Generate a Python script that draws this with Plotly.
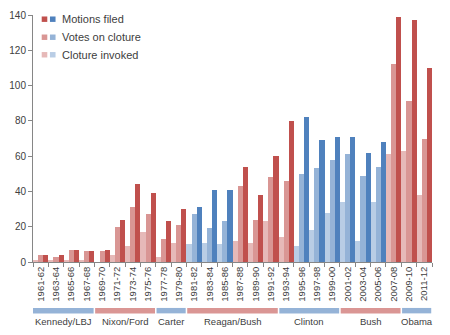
import plotly.graph_objects as go

congresses = ["1961-62", "1963-64", "1965-66", "1967-68", "1969-70", "1971-72", "1973-74",
              "1975-76", "1977-78", "1979-80", "1981-82", "1983-84", "1985-86", "1987-88",
              "1989-90", "1991-92", "1993-94", "1995-96", "1997-98", "1999-00", "2001-02",
              "2003-04", "2005-06", "2007-08", "2009-10", "2011-12"]
motions_filed = [4, 4, 7, 6, 7, 24, 44, 39, 23, 30, 31, 41, 41, 54, 38, 60, 80, 82, 69, 71, 71, 62, 68, 139, 137, 110]
votes_on_cloture = [4, 3, 7, 6, 6, 20, 31, 27, 13, 21, 27, 19, 23, 43, 24, 48, 46, 50, 53, 58, 61, 49, 54, 112, 91, 70]
cloture_invoked = [1, 1, 1, 1, 0, 4, 9, 17, 3, 11, 10, 11, 10, 12, 11, 23, 14, 9, 18, 28, 34, 12, 34, 61, 63, 38]
senate_majority = ["D", "D", "D", "D", "D", "D", "D", "D", "D", "D", "R", "R", "R", "D", "D", "D", "D",
                   "R", "R", "R", "R", "R", "R", "D", "D", "D"]

presidents = ["Kennedy/LBJ", "Nixon/Ford", "Carter", "Reagan/Bush", "Clinton", "Bush", "Obama"]
president_terms = [4, 4, 2, 6, 4, 4, 2]
president_party = ["D", "R", "D", "R", "D", "R", "D"]

series_names = ["Cloture invoked", "Votes on cloture", "Motions filed"]
series_values = [cloture_invoked, votes_on_cloture, motions_filed]
palette = {
    "Cloture invoked": {"D": "#E6B9B8", "R": "#B9CDE5"},
    "Votes on cloture": {"D": "#D99694", "R": "#95B3D7"},
    "Motions filed": {"D": "#C0504D", "R": "#4F81BD"},
}
band_colors = {"D": "#95B3D7", "R": "#DA9694"}

fig = go.Figure()
for name, vals in zip(series_names, series_values):
    fig.add_trace(go.Bar(
        x=congresses, y=vals, name=name,
        marker=dict(color=[palette[name][p] for p in senate_majority], line=dict(width=0)),
        showlegend=False,
    ))

font = "Liberation Sans, Arial, sans-serif"
txt = "#404040"
axis_col = "#868686"

shapes = []
annotations = []

# President bands under the axis
start = 0
for pres, n, party in zip(presidents, president_terms, president_party):
    x0 = start - 0.5 + (0.0 if start == 0 else 0.05)
    x1 = start + n - 0.5 - 0.05
    shapes.append(dict(type="rect", xref="x", yref="paper", x0=x0, x1=x1,
                       y0=-0.208, y1=-0.186, fillcolor=band_colors[party], line=dict(width=0)))
    annotations.append(dict(xref="x", yref="paper", x=start + (n - 1) / 2, y=-0.242,
                            text=pres, showarrow=False, xanchor="center", yanchor="middle",
                            font=dict(family=font, size=9.5, color=txt)))
    start += n

# Legend drawn manually (two swatches per entry)
legend_order = ["Motions filed", "Votes on cloture", "Cloture invoked"]
legend_y = [0.983, 0.910, 0.839]
for name, ly in zip(legend_order, legend_y):
    shapes.append(dict(type="rect", xref="paper", yref="paper", x0=0.0218, x1=0.0358,
                       y0=ly - 0.011, y1=ly + 0.011, fillcolor=palette[name]["D"], line=dict(width=0)))
    shapes.append(dict(type="rect", xref="paper", yref="paper", x0=0.0425, x1=0.0565,
                       y0=ly - 0.011, y1=ly + 0.011, fillcolor=palette[name]["R"], line=dict(width=0)))
    annotations.append(dict(xref="paper", yref="paper", x=0.068, y=ly, text=name,
                            showarrow=False, xanchor="left", yanchor="middle",
                            font=dict(family=font, size=11, color=txt)))

fig.update_layout(
    width=450, height=335,
    margin=dict(l=32, r=18, t=9, b=73),
    paper_bgcolor="white", plot_bgcolor="white",
    barmode="group", bargap=0, bargroupgap=0,
    shapes=shapes, annotations=annotations,
    font=dict(family=font, color=txt),
)
fig.update_xaxes(
    type="category", range=[-0.5, 25.5], tickangle=-90,
    tickfont=dict(family=font, size=9.5, color=txt),
    showline=True, linecolor=axis_col, linewidth=1,
    ticks="outside", tickson="boundaries", ticklen=4, tickcolor=axis_col,
    showgrid=False, zeroline=False,
)
fig.update_yaxes(
    range=[0, 140], dtick=20, tickfont=dict(family=font, size=10, color=txt),
    showline=True, linecolor=axis_col, linewidth=1,
    ticks="outside", ticklen=4, tickcolor=axis_col,
    showgrid=False, zeroline=False,
)

fig.write_html("out.html")
